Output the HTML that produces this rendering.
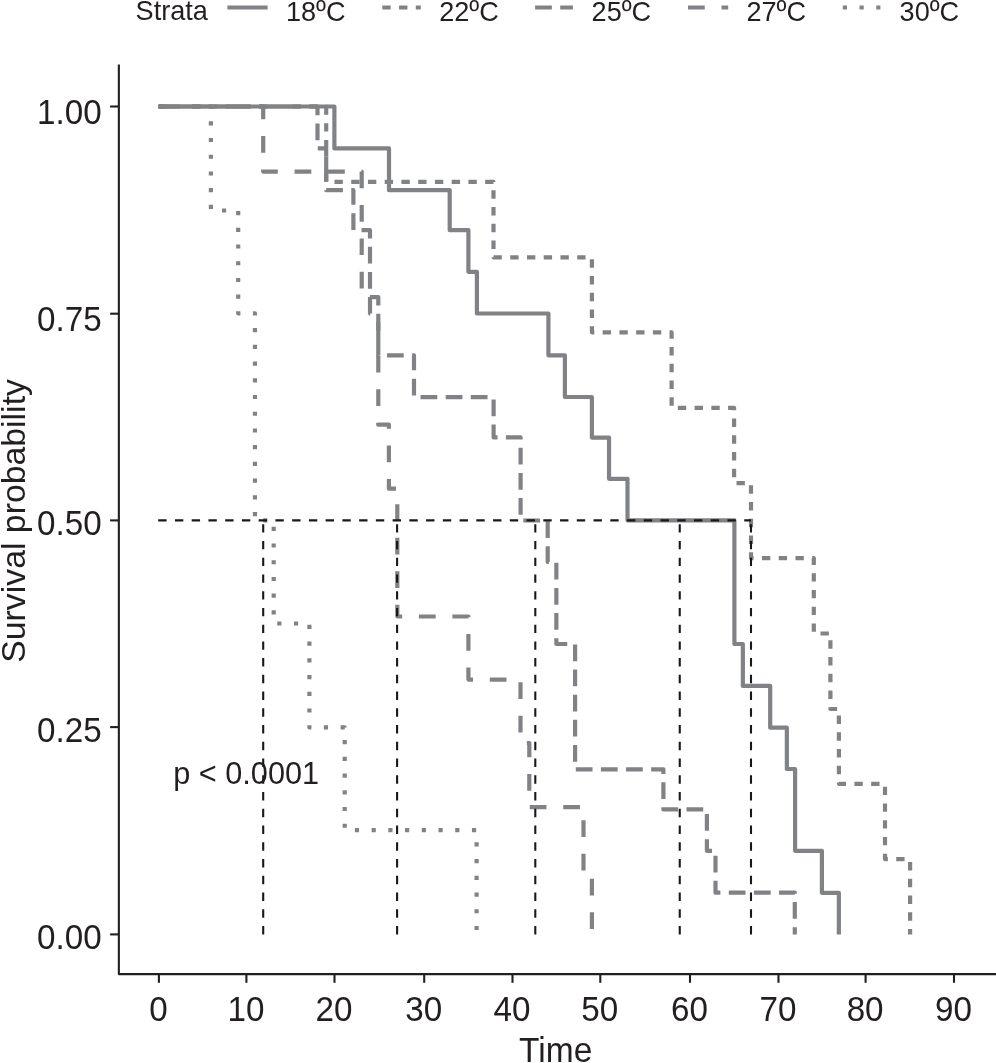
<!DOCTYPE html>
<html lang="en"><head><meta charset="utf-8"><title>Survival probability by strata</title>
<style>html,body{margin:0;padding:0;background:#fff}body{width:996px;height:1063px;overflow:hidden}svg{display:block}text{font-family:"Liberation Sans",sans-serif;fill:#231f20}</style>
</head><body>
<svg width="996" height="1063" viewBox="0 0 996 1063">
<rect x="0" y="0" width="996" height="1063" fill="#ffffff"/>
<g font-size="27.1">
<text transform="translate(135.6,20.3) scale(1,1.03)">Strata</text>
<line x1="227.4" y1="7.5" x2="267.6" y2="7.5" stroke="#808285" stroke-width="4.186"/>
<text transform="translate(286.0,20.6) scale(1,1.05)">18ºC</text>
<line x1="382.3" y1="7.5" x2="420.8" y2="7.5" stroke="#808285" stroke-width="4.186" stroke-dasharray="8.372 8.372"/>
<text transform="translate(439.2,20.6) scale(1,1.05)">22ºC</text>
<line x1="535.1" y1="7.5" x2="572.9" y2="7.5" stroke="#808285" stroke-width="4.186" stroke-dasharray="16.744 8.372"/>
<text transform="translate(591.6,20.6) scale(1,1.05)">25ºC</text>
<line x1="688.0" y1="7.5" x2="728.2" y2="7.5" stroke="#808285" stroke-width="4.186" stroke-dasharray="16.744 16.744"/>
<text transform="translate(746.4,20.6) scale(1,1.05)">27ºC</text>
<line x1="842.8" y1="7.5" x2="883.0" y2="7.5" stroke="#808285" stroke-width="4.186" stroke-dasharray="4.181 12.544"/>
<text transform="translate(899.6,20.6) scale(1,1.05)">30ºC</text>
</g>
<g fill="none" stroke="#808285" stroke-width="4.186" stroke-linejoin="round" stroke-linecap="butt">
<path d="M158.2,106.5 L334.4,106.5 L334.4,148.4 L389,148.4 L389,190.2 L449.7,190.2 L449.7,230.2 L468.4,230.2 L468.4,271.8 L476.9,271.8 L476.9,313.5 L548.4,313.5 L548.4,355.3 L564.9,355.3 L564.9,397 L591.9,397 L591.9,437.6 L609.05,437.6 L609.05,478.8 L627.5,478.8 L627.5,520.4 L734.4,520.4 L734.4,644 L742.85,644 L742.85,685.9 L770.2,685.9 L770.2,727.7 L786.85,727.7 L786.85,769 L795.1,769 L795.1,850.8 L821.9,850.8 L821.9,892.8 L838.85,892.8 L838.85,934.4"/>
<path d="M158.2,106.5 L326.2,106.5 L326.2,181.9 L493.5,181.9 L493.5,257.3 L591.9,257.3 L591.9,332.3 L671.6,332.3 L671.6,407.8 L734.1,407.8 L734.1,483.1 L751,483.1 L751,558.1 L813.8,558.1 L813.8,633.5 L830.4,633.5 L830.4,709 L838.9,709 L838.9,783.8 L885,783.8 L885,859.2 L910.1,859.2 L910.1,934.4" stroke-dasharray="8.372 8.372" stroke-dashoffset="-0.5"/>
<path d="M158.2,106.5 L317.5,106.5 L317.5,148.4 L326.2,148.4 L326.2,190.2 L353.4,190.2 L353.4,230.2 L370,230.2 L370,313.6 L378.3,313.6 L378.3,355.4 L414,355.4 L414,397.2 L493.6,397.2 L493.6,437.4 L520.6,437.4 L520.6,520.5 L547.7,520.5 L547.7,561.9 L556.35,561.9 L556.35,644 L575.1,644 L575.1,769.4 L663.4,769.4 L663.4,809.4 L706.9,809.4 L706.9,850.8 L715.5,850.8 L715.5,892.7 L794.8,892.7 L794.8,934.4" stroke-dasharray="16.744 8.372" stroke-dashoffset="-0.5"/>
<path d="M158.2,106.5 L263.2,106.5 L263.2,171.55 L361.7,171.55 L361.7,297.2 L378.3,297.2 L378.3,424.7 L388.9,424.7 L388.9,488.7 L397.3,488.7 L397.3,616.5 L468.4,616.5 L468.4,679.6 L520.5,679.6 L520.5,743 L529.3,743 L529.3,807.1 L583.5,807.1 L583.5,870.7 L591.9,870.7 L591.9,934.4" stroke-dasharray="16.744 16.744" stroke-dashoffset="-0.5"/>
<path d="M158.2,106.5 L210.9,106.5 L210.9,210.5 L238.2,210.5 L238.2,313.3 L254.95,313.3 L254.95,520.45 L273.7,520.45 L273.7,623.5 L309.4,623.5 L309.4,727.4 L344.7,727.4 L344.7,830.2 L476.6,830.2 L476.6,934.4" stroke-dasharray="4.181 12.544" stroke-dashoffset="-0.5"/>
</g>
<g fill="none" stroke="#1a1718" stroke-width="2.093" stroke-dasharray="8.372 8.372">
<path d="M158.2,520.4 L751,520.4"/>
<path d="M263.2,934.4 L263.2,520.4"/>
<path d="M397.1,934.4 L397.1,520.4"/>
<path d="M535.3,934.4 L535.3,520.4"/>
<path d="M679.75,934.4 L679.75,520.4"/>
<path d="M751.0,934.4 L751.0,520.4"/>
</g>
<text transform="translate(173.2,783.9) scale(1,1.04)" font-size="30.7">p &lt; 0.0001</text>
<g fill="none" stroke="#231f20" stroke-width="2.1">
<path d="M118.85,64.6 L118.85,974.1 L996,974.1" stroke-linejoin="round"/>
<path d="M110.1,106.5 L118.85,106.5"/>
<path d="M110.1,313.7 L118.85,313.7"/>
<path d="M110.1,520.4 L118.85,520.4"/>
<path d="M110.1,727.1 L118.85,727.1"/>
<path d="M110.1,934.4 L118.85,934.4"/>
<path d="M158.9,974.1 L158.9,982.8"/>
<path d="M246.4,974.1 L246.4,982.8"/>
<path d="M334.5,974.1 L334.5,982.8"/>
<path d="M424.2,974.1 L424.2,982.8"/>
<path d="M512.5,974.1 L512.5,982.8"/>
<path d="M600.3,974.1 L600.3,982.8"/>
<path d="M690.0,974.1 L690.0,982.8"/>
<path d="M778.5,974.1 L778.5,982.8"/>
<path d="M865.6,974.1 L865.6,982.8"/>
<path d="M954.0,974.1 L954.0,982.8"/>
</g>
<g font-size="33.2">
<text transform="translate(101.6,123.6) scale(1,1.07)" text-anchor="end">1.00</text>
<text transform="translate(101.6,330.7) scale(1,1.07)" text-anchor="end">0.75</text>
<text transform="translate(101.6,535.2) scale(1,1.07)" text-anchor="end">0.50</text>
<text transform="translate(101.6,742.0) scale(1,1.07)" text-anchor="end">0.25</text>
<text transform="translate(101.6,948.9) scale(1,1.07)" text-anchor="end">0.00</text>
<text transform="translate(158.4,1020.8) scale(1,1.07)" text-anchor="middle">0</text>
<text transform="translate(245.9,1020.8) scale(1,1.07)" text-anchor="middle">10</text>
<text transform="translate(334.0,1020.8) scale(1,1.07)" text-anchor="middle">20</text>
<text transform="translate(423.7,1020.8) scale(1,1.07)" text-anchor="middle">30</text>
<text transform="translate(512.0,1020.8) scale(1,1.07)" text-anchor="middle">40</text>
<text transform="translate(599.8,1020.8) scale(1,1.07)" text-anchor="middle">50</text>
<text transform="translate(689.5,1020.8) scale(1,1.07)" text-anchor="middle">60</text>
<text transform="translate(778.0,1020.8) scale(1,1.07)" text-anchor="middle">70</text>
<text transform="translate(865.1,1020.8) scale(1,1.07)" text-anchor="middle">80</text>
<text transform="translate(953.5,1020.8) scale(1,1.07)" text-anchor="middle">90</text>
</g>
<text transform="translate(555.7,1062.3) scale(1,1.02)" font-size="33.5" text-anchor="middle">Time</text>
<text transform="translate(24.6,520.9) rotate(-90)" font-size="33.8" text-anchor="middle">Survival probability</text>
</svg></body></html>
